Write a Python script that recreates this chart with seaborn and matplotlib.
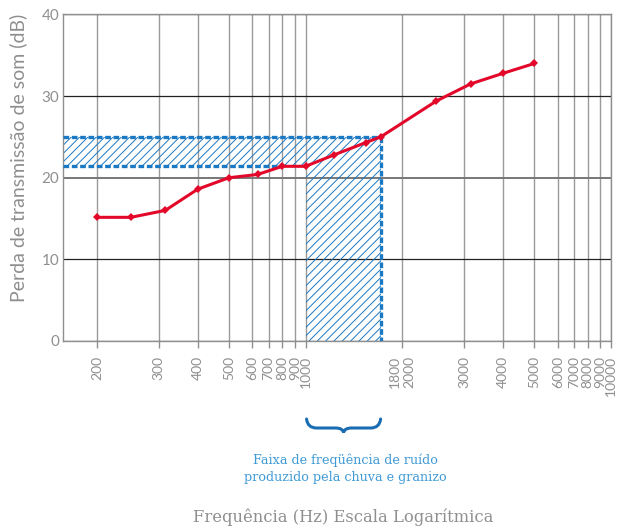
import numpy as np
import pandas as pd
import seaborn as sns
import matplotlib
matplotlib.use('Agg')
import matplotlib.pyplot as plt
from matplotlib.path import Path
from matplotlib.patches import PathPatch
from matplotlib.ticker import FixedLocator, FixedFormatter, NullLocator

# dados
freq_hz = [200, 250, 315, 400, 500, 630, 800, 1000, 1250, 1600, 1800, 2500, 3150, 4000, 5000]
perda_db = [15.15, 15.15, 16.0, 18.6, 20.0, 20.4, 21.4, 21.4, 22.8, 24.3, 25.0, 29.4, 31.5, 32.8, 34.0]

tick_hz = [200, 300, 400, 500, 600, 700, 800, 900, 1000, 2000, 3000, 4000, 5000,
           6000, 7000, 8000, 9000, 10000]
tick_labels = ['200', '300', '400', '500', '600', '700', '800', '900', '1000', '1800\n2000',
               '3000', '4000', '5000', '6000', '7000', '8000', '9000', '10000']

# faixa de ruído de chuva e granizo
faixa_hz = (1000, 1800)
faixa_db = (21.5, 25.0)

# escala "logarítmica" do desenho original (posição dentro de cada década)
decada_mant = [1, 1.8, 2, 3, 4, 5, 6, 7, 8, 9, 10]
decada_pos = [0, 0.2457, 0.317, 0.519, 0.647, 0.749, 0.826, 0.879, 0.924, 0.965, 1.0]
log_mant = np.log10(decada_mant)


def forward(x):
    x = np.clip(np.asarray(x, dtype=float), 1e-6, None)
    l = np.log10(x)
    d = np.floor(l)
    return d + np.interp(l - d, log_mant, decada_pos)


def inverse(y):
    y = np.asarray(y, dtype=float)
    d = np.floor(y)
    return 10 ** (d + np.interp(y - d, decada_pos, log_mant))


sns.set_theme(style='white')
plt.rcParams['font.family'] = ['Lato', 'DejaVu Sans']
plt.rcParams['hatch.linewidth'] = 0.7

cinza = '#8f8f8f'
azul = '#1b78c2'
vermelho = '#e3082a'

fig = plt.figure(figsize=(6.21, 5.29), dpi=100)
ax = fig.add_axes([0.1019, 0.3554, 0.882, 0.6172])
ax.set_xscale('function', functions=(forward, inverse))
x_min = 164
ax.set_xlim(x_min, 10000)
ax.set_ylim(0, 40)

ax.xaxis.set_major_locator(FixedLocator(tick_hz))
ax.xaxis.set_major_formatter(FixedFormatter(tick_labels))
ax.xaxis.set_minor_locator(NullLocator())
ax.set_yticks([0, 10, 20, 30, 40])

ax.set_axisbelow(True)
ax.grid(axis='x', color='#9a9a9a', lw=1.0)
ax.grid(axis='y', color='#222222', lw=0.9)
for v, gl in zip(ax.get_yticks(), ax.get_ygridlines()):
    if v == 20:
        gl.set_color('#777777')
        gl.set_linewidth(1.4)

for s in ax.spines.values():
    s.set_color(cinza)
    s.set_linewidth(1.0)

ax.tick_params(axis='x', direction='out', length=5, width=1, color=cinza,
               labelcolor=cinza, labelsize=10, labelrotation=90, pad=6, bottom=True)
ax.tick_params(axis='y', length=0, labelcolor=cinza, labelsize=11, pad=3)
for t in ax.get_xticklabels():
    t.set_linespacing(1.25)

# área hachurada
ax.fill([x_min, faixa_hz[1], faixa_hz[1], faixa_hz[0], faixa_hz[0], x_min],
        [faixa_db[1], faixa_db[1], 0, 0, faixa_db[0], faixa_db[0]],
        facecolor='none', edgecolor=azul, hatch='////', linewidth=0, zorder=2)
tracejado = dict(color=azul, lw=2.4, linestyle=(0, (1.7, 0.8)), zorder=3)
ax.plot([x_min, faixa_hz[1]], [faixa_db[1], faixa_db[1]], **tracejado)
ax.plot([faixa_hz[1], faixa_hz[1]], [faixa_db[1], 0], **tracejado)
ax.plot([x_min, 800], [faixa_db[0], faixa_db[0]], **tracejado)

df = pd.DataFrame({'freq': freq_hz, 'perda': perda_db})
sns.lineplot(data=df, x='freq', y='perda', ax=ax, color=vermelho, lw=2.2,
             marker='D', markersize=3.8, markeredgewidth=0, zorder=4)
ax.set_xlabel('')
ax.set_ylabel('')

# chave sob a faixa 1000-1800 Hz
H = fig.bbox.height
L = ax.transData.transform((faixa_hz[0], 0))[0] + 1
R = ax.transData.transform((faixa_hz[1], 0))[0]
M = (L + R) / 2
yt, ym, yb = H - 419, H - 428, H - 432.5
verts = [(L, yt), (L + 1, ym), (L + 10, ym), (M - 8, ym), (M - 1, ym), (M, yb),
         (M + 1, ym), (M + 8, ym), (R - 10, ym), (R - 1, ym), (R, yt)]
codes = [Path.MOVETO, Path.CURVE3, Path.CURVE3, Path.LINETO, Path.CURVE3, Path.CURVE3,
         Path.CURVE3, Path.CURVE3, Path.LINETO, Path.CURVE3, Path.CURVE3]
verts = fig.transFigure.inverted().transform(verts)
fig.add_artist(PathPatch(Path(verts, codes), fill=False, edgecolor='#1a6db3', lw=2.2,
                         capstyle='round', transform=fig.transFigure))

fig.text(0.556, 0.113, 'Faixa de freqüência de ruído\nproduzido pela chuva e granizo',
         ha='center', va='center', color='#3f9ad6', fontsize=9.2,
         family=['DejaVu Serif'], linespacing=1.4)
fig.text(0.553, 0.022, 'Frequência (Hz) Escala Logarítmica', ha='center', va='center',
         color=cinza, fontsize=11.8, family=['DejaVu Serif'])
fig.text(0.029, 0.701, 'Perda de transmissão de som (dB)', ha='center', va='center',
         rotation=90, color=cinza, fontsize=14)

fig.savefig('out.png', dpi=100)
